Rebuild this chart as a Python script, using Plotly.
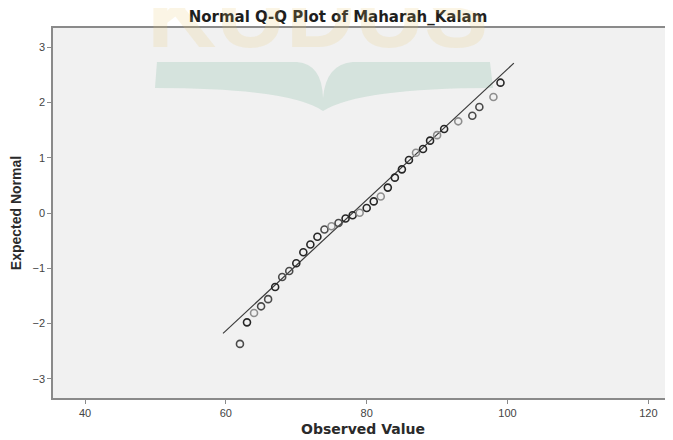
import plotly.graph_objects as go

# -- Data --------------------------------------------------------------------

observed = [62, 63, 64, 65, 66, 67, 68, 69, 70, 71, 72, 73, 74, 75, 76, 77, 78,
            79, 80, 81, 82, 83, 84, 85, 86, 87, 88, 89, 90, 91, 93, 95, 96, 98, 99]
expected = [-2.37, -1.98, -1.81, -1.69, -1.56, -1.34, -1.16, -1.05, -0.91, -0.71,
            -0.57, -0.43, -0.30, -0.24, -0.18, -0.10, -0.04, 0.005, 0.09, 0.21,
            0.30, 0.46, 0.64, 0.79, 0.96, 1.09, 1.16, 1.31, 1.41, 1.52, 1.66,
            1.76, 1.92, 2.10, 2.36]
# overlapping cases per point (darker rings where several cases coincide)
case_counts = [2, 3, 1, 2, 2, 3, 2, 2, 3, 3, 3, 3, 2, 1, 2, 3, 3, 1, 3, 3,
               1, 3, 3, 3, 3, 1, 3, 3, 1, 3, 1, 2, 2, 1, 3]

line_mean = 78.0
line_sd = 8.44
line_x = [59.6, 100.9]

x_ticks = [40, 60, 80, 100, 120]
y_ticks = [-3, -2, -1, 0, 1, 2, 3]

# -- Styling ------------------------------------------------------------------

_SHADES = {1: "#8e8e8e", 2: "#4a4a4a", 3: "#262626"}
_AXIS_GREY = "#8a8a8a"
_FONT = "Liberation Sans, Arial, sans-serif"
_WIDE = "DejaVu Sans, Verdana, sans-serif"

# the page body keeps an 8px margin, so the figure is drawn 8px smaller
_BODY = 8

marker_colors = [_SHADES[c] for c in case_counts]
line_y = [(x - line_mean) / line_sd for x in line_x]

fig = go.Figure()
fig.add_trace(go.Scatter(
    x=line_x, y=line_y, mode="lines",
    line={"color": "#3a3a3a", "width": 1.2},
    hoverinfo="skip", showlegend=False,
))
fig.add_trace(go.Scatter(
    x=observed, y=expected, mode="markers",
    marker={
        "symbol": "circle-open", "size": 7,
        "color": marker_colors,
        "line": {"color": marker_colors, "width": 1.6},
    },
    showlegend=False,
))


def _px(px: float, py: float) -> str:
    """Pixel position on the page -> paper coords of the plot area."""
    return f"{(px - 53) / 620:.4f},{(398 - py) / 370:.4f}"


# faint "KUDUS" watermark with its open-book logo
book = (
    f"M {_px(157, 62)} L {_px(297, 62)} Q {_px(322, 64)} {_px(323, 98)} "
    f"Q {_px(326, 64)} {_px(353, 62)} L {_px(490, 62)} L {_px(493, 88)} "
    f"Q {_px(360, 88)} {_px(323, 111)} Q {_px(290, 88)} {_px(155, 88)} Z"
)
fig.add_shape(type="path", path=book, xref="paper", yref="paper",
              fillcolor="rgba(190,215,204,0.55)", line={"width": 0}, layer="below")
fig.add_annotation(
    text="<b>KUDUS</b>", xref="paper", yref="paper",
    x=(317 - 53) / 620, y=(398 - 14) / 370, xanchor="center", yanchor="middle",
    showarrow=False,
    font={"family": _FONT, "size": 96, "color": "rgba(232,200,110,0.18)"},
)

fig.update_layout(
    width=673 - _BODY, height=440 - _BODY,
    paper_bgcolor="white", plot_bgcolor="#f1f1f1",
    margin={"l": 53 - _BODY, "r": 0, "t": 28 - _BODY, "b": 42},
    font={"family": _FONT, "color": "#3c3c3c", "size": 11},
    title={
        "text": "<b>Normal Q-Q Plot of Maharah_Kalam</b>",
        "x": (338 - _BODY) / (673 - _BODY), "xanchor": "center", "xref": "container",
        "y": 1 - (16.5 - _BODY) / (440 - _BODY), "yanchor": "middle",
        "font": {"family": _WIDE, "size": 15, "color": "#1e1e1e"},
    },
    xaxis={
        "range": [35.45, 123.5], "tickvals": x_ticks,
        "showgrid": False, "zeroline": False,
        "showline": True, "linecolor": _AXIS_GREY, "linewidth": 1.6, "mirror": True,
        "ticks": "outside", "ticklen": 4, "tickcolor": _AXIS_GREY,
        "tickfont": {"size": 11, "color": "#444"},
        "title": {"text": "<b>Observed Value</b>", "standoff": 6,
                  "font": {"family": _WIDE, "size": 14, "color": "#2a2a2a"}},
    },
    yaxis={
        "range": [-3.35, 3.35], "tickvals": y_ticks,
        "showgrid": False, "zeroline": False,
        "showline": True, "linecolor": _AXIS_GREY, "linewidth": 1.6,
        "ticks": "outside", "ticklen": 4, "tickcolor": _AXIS_GREY,
        "tickfont": {"size": 11, "color": "#444"},
        "title": {"text": "<b>Expected Normal</b>", "standoff": 12,
                  "font": {"size": 14, "color": "#2a2a2a"}},
    },
)

fig.write_html("out.html")
